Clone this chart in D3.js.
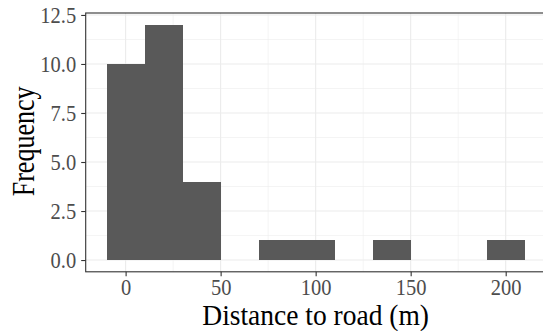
<!DOCTYPE html>
<html>
<head>
<meta charset="utf-8">
<script src="https://cdn.jsdelivr.net/npm/d3@7"></script>
<style>
  body { margin: 0; background: #fff; }
  svg { display: block; }
  .tick-label { font-family: "Liberation Serif", "Times New Roman", serif; fill: #4d4d4d; }
  .axis-title { font-family: "Liberation Serif", "Times New Roman", serif; fill: #000; }
</style>
</head>
<body>
<svg id="chart" width="543" height="331"></svg>
<script>
// histogram bins (width 20), centres and counts
const binCentres = [0, 20, 40, 60, 80, 100, 120, 140, 160, 180, 200];
const binCounts = [10, 12, 4, 0, 1, 1, 0, 1, 0, 0, 1];
const binWidth = 20;

const xTicks = [0, 50, 100, 150, 200];
const xMinor = [25, 75, 125, 175];
const yTicks = [0, 2.5, 5, 7.5, 10, 12.5];
const yMinor = [1.25, 3.75, 6.25, 8.75, 11.25];

const svg = d3.select("#chart");

// panel runs a bit past the right edge, as in the source image
const panel = { left: 85.7, right: 545.6, top: 13, bottom: 271.8 };

const x = d3.scaleLinear().domain([-21, 221]).range([panel.left, panel.right]);
const y = d3.scaleLinear().domain([-0.6, 12.6]).range([panel.bottom, panel.top]);

const g = svg.append("g");

// grid lines - minor first, then major
g.selectAll(".minor-x").data(xMinor).enter().append("line")
    .attr("x1", d => x(d)).attr("x2", d => x(d))
    .attr("y1", panel.top).attr("y2", panel.bottom)
    .attr("stroke", "#ebebeb").attr("stroke-width", 0.55);
g.selectAll(".minor-y").data(yMinor).enter().append("line")
    .attr("x1", panel.left).attr("x2", panel.right)
    .attr("y1", d => y(d)).attr("y2", d => y(d))
    .attr("stroke", "#ebebeb").attr("stroke-width", 0.55);
g.selectAll(".major-x").data(xTicks).enter().append("line")
    .attr("x1", d => x(d)).attr("x2", d => x(d))
    .attr("y1", panel.top).attr("y2", panel.bottom)
    .attr("stroke", "#ebebeb").attr("stroke-width", 1.1);
g.selectAll(".major-y").data(yTicks).enter().append("line")
    .attr("x1", panel.left).attr("x2", panel.right)
    .attr("y1", d => y(d)).attr("y2", d => y(d))
    .attr("stroke", "#ebebeb").attr("stroke-width", 1.1);

// bars
const bins = binCentres.map((c, i) => ({ x0: c - binWidth / 2, x1: c + binWidth / 2, n: binCounts[i] }))
    .filter(d => d.n > 0);
g.selectAll(".bar").data(bins).enter().append("rect")
    .attr("class", "bar")
    .attr("x", d => x(d.x0))
    .attr("width", d => x(d.x1) - x(d.x0))
    .attr("y", d => y(d.n))
    .attr("height", d => y(0) - y(d.n))
    .attr("fill", "#595959")
    .attr("shape-rendering", "crispEdges");

// panel border
g.append("rect")
    .attr("x", panel.left).attr("y", panel.top)
    .attr("width", panel.right - panel.left)
    .attr("height", panel.bottom - panel.top)
    .attr("fill", "none").attr("stroke", "#333").attr("stroke-width", 1.1);

// axes - ticks and labels (text is a touch taller than wide in the source)
const xAxis = d3.axisBottom(x).tickValues(xTicks).tickSize(4.5).tickFormat(d3.format("d"));
const yAxis = d3.axisLeft(y).tickValues(yTicks).tickSize(4.5).tickPadding(5).tickFormat(d3.format(".1f"));

const gx = svg.append("g").attr("transform", `translate(0,${panel.bottom})`).call(xAxis);
const gy = svg.append("g").attr("transform", `translate(${panel.left},0)`).call(yAxis);
[gx, gy].forEach(a => {
    a.select(".domain").remove();
    a.selectAll(".tick line").attr("stroke", "#333").attr("stroke-width", 1.1);
    a.selectAll(".tick text").attr("class", "tick-label").attr("font-size", 20.5)
        .attr("transform", "scale(1,1.1)");
});
gx.selectAll(".tick text").attr("y", 21.3).attr("dy", null);
gy.selectAll(".tick text").attr("dy", "0.33em");

// axis titles
svg.append("text")
    .attr("class", "axis-title")
    .attr("transform", `translate(${(panel.left + panel.right) / 2},325) scale(1,1.05)`)
    .attr("text-anchor", "middle")
    .attr("font-size", 27.5)
    .text("Distance to road (m)");

svg.append("text")
    .attr("class", "axis-title")
    .attr("transform", `translate(34,${(panel.top + panel.bottom) / 2 - 1}) rotate(-90) scale(1,1.2)`)
    .attr("text-anchor", "middle")
    .attr("font-size", 26)
    .text("Frequency");
</script>
</body>
</html>
